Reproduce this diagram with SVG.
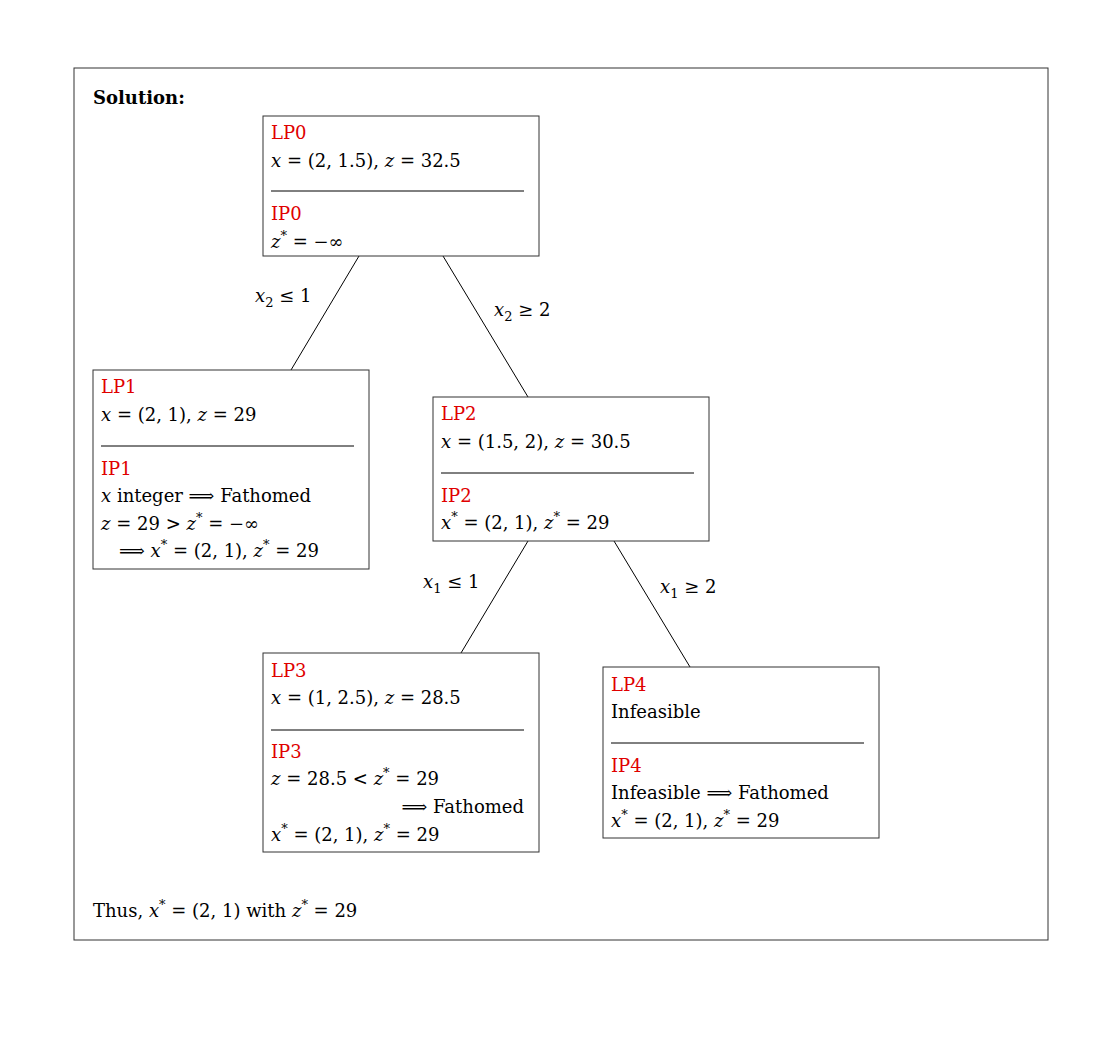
<svg xmlns="http://www.w3.org/2000/svg" width="1110" height="1040" viewBox="0 0 1110 1040">
<style>
text{font-family:"DejaVu Serif","Liberation Serif",serif;font-size:18px;fill:#000}
.r{fill:#e00000}
.i{font-style:italic}
.s{font-size:13px}
.b{font-weight:bold}
rect{fill:#fff;stroke:#333;stroke-width:1}
line{stroke:#000;stroke-width:1}
</style>
<rect x="74" y="68" width="974" height="872"/>
<text x="93" y="104" class="b">Solution:</text>
<g id="connectors">
<line x1="359" y1="256" x2="291" y2="370"/>
<line x1="443" y1="256" x2="528" y2="397"/>
<line x1="528" y1="541" x2="461" y2="653"/>
<line x1="614" y1="541" x2="690" y2="667"/>
<text x="255" y="302"><tspan class="i">x</tspan><tspan class="s" dy="5">2</tspan><tspan dy="-5"> ≤ 1</tspan></text>
<text x="494" y="316"><tspan class="i">x</tspan><tspan class="s" dy="5">2</tspan><tspan dy="-5"> ≥ 2</tspan></text>
<text x="423" y="588"><tspan class="i">x</tspan><tspan class="s" dy="5">1</tspan><tspan dy="-5"> ≤ 1</tspan></text>
<text x="660" y="593"><tspan class="i">x</tspan><tspan class="s" dy="5">1</tspan><tspan dy="-5"> ≥ 2</tspan></text>
</g>
<g id="LP0">
<rect x="263" y="116" width="276" height="140"/>
<text x="271" y="139" class="r">LP0</text>
<text x="271" y="167"><tspan class="i">x</tspan> = (2, 1.5), <tspan class="i">z</tspan> = 32.5</text>
<line x1="271" y1="191" x2="524" y2="191"/>
<text x="271" y="220" class="r">IP0</text>
<text x="271" y="248"><tspan class="i">z</tspan><tspan class="s" dy="-8">*</tspan><tspan dy="8"> = −∞</tspan></text>
</g>
<g id="LP1">
<rect x="93" y="370" width="276" height="199"/>
<text x="101" y="393" class="r">LP1</text>
<text x="101" y="421"><tspan class="i">x</tspan> = (2, 1), <tspan class="i">z</tspan> = 29</text>
<line x1="101" y1="446" x2="354" y2="446"/>
<text x="101" y="475" class="r">IP1</text>
<text x="101" y="502"><tspan class="i">x</tspan> integer ⟹ Fathomed</text>
<text x="101" y="530"><tspan class="i">z</tspan> = 29 &gt; <tspan class="i">z</tspan><tspan class="s" dy="-8">*</tspan><tspan dy="8"> = −∞</tspan></text>
<text x="119" y="557">⟹ <tspan class="i">x</tspan><tspan class="s" dy="-8">*</tspan><tspan dy="8"> = (2, 1), </tspan><tspan class="i">z</tspan><tspan class="s" dy="-8">*</tspan><tspan dy="8"> = 29</tspan></text>
</g>
<g id="LP2">
<rect x="433" y="397" width="276" height="144"/>
<text x="441" y="420" class="r">LP2</text>
<text x="441" y="448"><tspan class="i">x</tspan> = (1.5, 2), <tspan class="i">z</tspan> = 30.5</text>
<line x1="441" y1="473" x2="694" y2="473"/>
<text x="441" y="502" class="r">IP2</text>
<text x="441" y="529"><tspan class="i">x</tspan><tspan class="s" dy="-8">*</tspan><tspan dy="8"> = (2, 1), </tspan><tspan class="i">z</tspan><tspan class="s" dy="-8">*</tspan><tspan dy="8"> = 29</tspan></text>
</g>
<g id="LP3">
<rect x="263" y="653" width="276" height="199"/>
<text x="271" y="677" class="r">LP3</text>
<text x="271" y="704"><tspan class="i">x</tspan> = (1, 2.5), <tspan class="i">z</tspan> = 28.5</text>
<line x1="271" y1="730" x2="524" y2="730"/>
<text x="271" y="758" class="r">IP3</text>
<text x="271" y="785"><tspan class="i">z</tspan> = 28.5 &lt; <tspan class="i">z</tspan><tspan class="s" dy="-8">*</tspan><tspan dy="8"> = 29</tspan></text>
<text x="524" y="813" text-anchor="end">⟹ Fathomed</text>
<text x="271" y="841"><tspan class="i">x</tspan><tspan class="s" dy="-8">*</tspan><tspan dy="8"> = (2, 1), </tspan><tspan class="i">z</tspan><tspan class="s" dy="-8">*</tspan><tspan dy="8"> = 29</tspan></text>
</g>
<g id="LP4">
<rect x="603" y="667" width="276" height="171"/>
<text x="611" y="691" class="r">LP4</text>
<text x="611" y="718">Infeasible</text>
<line x1="611" y1="743" x2="864" y2="743"/>
<text x="611" y="772" class="r">IP4</text>
<text x="611" y="799">Infeasible ⟹ Fathomed</text>
<text x="611" y="827"><tspan class="i">x</tspan><tspan class="s" dy="-8">*</tspan><tspan dy="8"> = (2, 1), </tspan><tspan class="i">z</tspan><tspan class="s" dy="-8">*</tspan><tspan dy="8"> = 29</tspan></text>
</g>
<text x="93" y="917">Thus, <tspan class="i">x</tspan><tspan class="s" dy="-8">*</tspan><tspan dy="8"> = (2, 1) with </tspan><tspan class="i">z</tspan><tspan class="s" dy="-8">*</tspan><tspan dy="8"> = 29</tspan></text>
</svg>
